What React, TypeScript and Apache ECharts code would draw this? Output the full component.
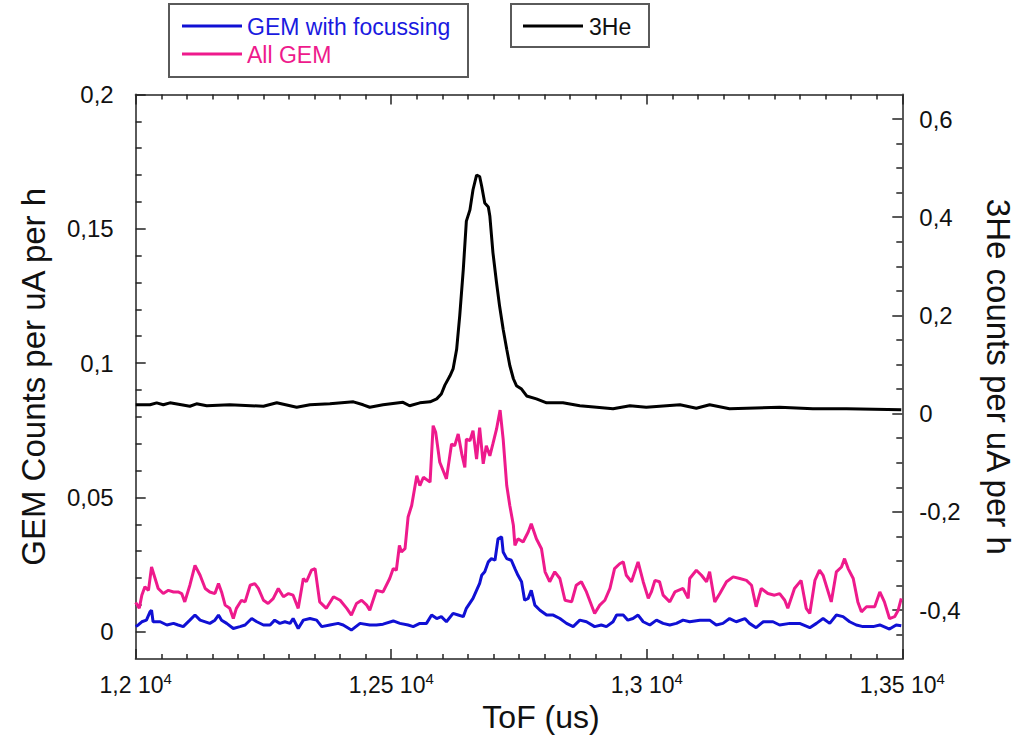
import React, { useEffect, useRef } from "react";
import * as echarts from "echarts";

// ---- Data ----
const heTof = [12000, 12028, 12041, 12054, 12067, 12106, 12119, 12139, 12184, 12250, 12276, 12302, 12315, 12341, 12380, 12426, 12445, 12458, 12484, 12523, 12536, 12556, 12576, 12589, 12598, 12605, 12615, 12621, 12628, 12634, 12641, 12647, 12654, 12660, 12667, 12673, 12677, 12683, 12690, 12693, 12699, 12706, 12712, 12719, 12726, 12732, 12739, 12745, 12755, 12765, 12784, 12804, 12836, 12869, 12902, 12934, 12967, 12999, 13065, 13097, 13123, 13162, 13260, 13325, 13391, 13498];
const heCounts = [0.018, 0.018, 0.022, 0.018, 0.022, 0.015, 0.020, 0.016, 0.018, 0.015, 0.022, 0.016, 0.013, 0.018, 0.020, 0.024, 0.018, 0.013, 0.018, 0.023, 0.016, 0.022, 0.024, 0.030, 0.040, 0.058, 0.077, 0.091, 0.131, 0.199, 0.294, 0.392, 0.415, 0.456, 0.486, 0.483, 0.463, 0.429, 0.421, 0.402, 0.328, 0.267, 0.219, 0.172, 0.131, 0.098, 0.071, 0.057, 0.050, 0.036, 0.030, 0.022, 0.022, 0.016, 0.013, 0.010, 0.016, 0.013, 0.018, 0.011, 0.018, 0.010, 0.013, 0.010, 0.010, 0.008];

const allTof = [12000, 12007, 12012, 12018, 12025, 12031, 12038, 12044, 12054, 12064, 12074, 12083, 12090, 12096, 12106, 12116, 12126, 12136, 12145, 12155, 12162, 12168, 12175, 12184, 12191, 12197, 12207, 12214, 12224, 12233, 12240, 12250, 12259, 12269, 12279, 12289, 12299, 12308, 12318, 12328, 12334, 12344, 12351, 12360, 12373, 12387, 12400, 12413, 12422, 12432, 12442, 12452, 12458, 12471, 12484, 12497, 12504, 12510, 12516, 12520, 12527, 12533, 12540, 12550, 12556, 12563, 12576, 12582, 12587, 12595, 12608, 12618, 12624, 12631, 12638, 12644, 12647, 12654, 12660, 12667, 12673, 12680, 12686, 12693, 12699, 12706, 12713, 12719, 12726, 12732, 12739, 12742, 12748, 12758, 12768, 12774, 12784, 12794, 12801, 12810, 12820, 12830, 12840, 12853, 12862, 12872, 12882, 12898, 12908, 12918, 12928, 12937, 12947, 12954, 12960, 12970, 12983, 12993, 13003, 13009, 13016, 13025, 13032, 13045, 13055, 13071, 13081, 13084, 13097, 13107, 13117, 13123, 13133, 13143, 13156, 13169, 13182, 13195, 13205, 13214, 13224, 13237, 13250, 13260, 13270, 13276, 13289, 13302, 13312, 13319, 13329, 13338, 13345, 13361, 13371, 13381, 13387, 13394, 13404, 13413, 13420, 13430, 13446, 13456, 13465, 13475, 13485, 13492, 13498];
const allCounts = [0.0109, 0.0087, 0.0136, 0.0167, 0.0154, 0.0241, 0.0198, 0.0161, 0.0142, 0.0154, 0.0148, 0.0148, 0.0142, 0.0111, 0.0173, 0.0247, 0.0210, 0.0161, 0.0148, 0.0142, 0.0179, 0.0148, 0.0099, 0.0087, 0.0049, 0.0087, 0.0117, 0.0111, 0.0173, 0.0179, 0.0161, 0.0117, 0.0105, 0.0123, 0.0161, 0.0130, 0.0142, 0.0136, 0.0087, 0.0198, 0.0186, 0.0229, 0.0235, 0.0111, 0.0087, 0.0130, 0.0117, 0.0087, 0.0062, 0.0105, 0.0117, 0.0099, 0.0080, 0.0154, 0.0148, 0.0198, 0.0235, 0.0229, 0.0321, 0.0297, 0.0309, 0.0427, 0.0470, 0.0581, 0.0544, 0.0575, 0.0557, 0.0767, 0.0742, 0.0631, 0.0569, 0.0699, 0.0692, 0.0736, 0.0662, 0.0612, 0.0717, 0.0711, 0.0748, 0.0643, 0.0760, 0.0625, 0.0692, 0.0655, 0.0700, 0.0754, 0.0825, 0.0717, 0.0544, 0.0470, 0.0396, 0.0321, 0.0346, 0.0334, 0.0371, 0.0402, 0.0346, 0.0309, 0.0223, 0.0186, 0.0223, 0.0198, 0.0117, 0.0111, 0.0173, 0.0186, 0.0148, 0.0068, 0.0099, 0.0117, 0.0161, 0.0235, 0.0253, 0.0260, 0.0210, 0.0186, 0.0260, 0.0186, 0.0124, 0.0148, 0.0191, 0.0186, 0.0136, 0.0111, 0.0148, 0.0161, 0.0124, 0.0198, 0.0229, 0.0210, 0.0186, 0.0223, 0.0111, 0.0142, 0.0186, 0.0204, 0.0198, 0.0191, 0.0173, 0.0093, 0.0161, 0.0142, 0.0136, 0.0142, 0.0117, 0.0087, 0.0161, 0.0191, 0.0087, 0.0068, 0.0191, 0.0229, 0.0210, 0.0111, 0.0223, 0.0241, 0.0272, 0.0235, 0.0198, 0.0111, 0.0074, 0.0093, 0.0093, 0.0148, 0.0111, 0.0049, 0.0056, 0.0080, 0.0124];

const focTof = [12000, 12005, 12012, 12021, 12028, 12031, 12034, 12048, 12061, 12074, 12083, 12093, 12106, 12116, 12126, 12145, 12155, 12162, 12168, 12178, 12191, 12204, 12214, 12227, 12237, 12250, 12263, 12272, 12282, 12292, 12302, 12308, 12318, 12328, 12341, 12354, 12364, 12380, 12396, 12406, 12422, 12439, 12458, 12471, 12484, 12504, 12517, 12533, 12543, 12556, 12569, 12579, 12589, 12598, 12608, 12621, 12631, 12641, 12647, 12660, 12673, 12677, 12683, 12690, 12696, 12703, 12709, 12716, 12719, 12726, 12735, 12742, 12748, 12755, 12761, 12768, 12774, 12781, 12791, 12804, 12817, 12830, 12843, 12856, 12869, 12882, 12898, 12911, 12921, 12934, 12941, 12954, 12963, 12973, 12983, 12993, 13006, 13019, 13032, 13045, 13058, 13071, 13084, 13104, 13123, 13136, 13149, 13162, 13175, 13192, 13201, 13214, 13228, 13247, 13260, 13280, 13299, 13319, 13332, 13345, 13358, 13371, 13384, 13397, 13410, 13423, 13443, 13456, 13475, 13488, 13498];
const focCounts = [0.0019, 0.0025, 0.0037, 0.0043, 0.0074, 0.0080, 0.0037, 0.0037, 0.0025, 0.0031, 0.0025, 0.0019, 0.0043, 0.0062, 0.0043, 0.0031, 0.0043, 0.0062, 0.0043, 0.0031, 0.0012, 0.0019, 0.0025, 0.0049, 0.0037, 0.0025, 0.0025, 0.0043, 0.0031, 0.0037, 0.0031, 0.0049, 0.0012, 0.0043, 0.0049, 0.0043, 0.0019, 0.0025, 0.0031, 0.0025, 0.0006, 0.0031, 0.0025, 0.0025, 0.0028, 0.0040, 0.0031, 0.0025, 0.0019, 0.0031, 0.0031, 0.0062, 0.0049, 0.0056, 0.0037, 0.0068, 0.0062, 0.0056, 0.0087, 0.0124, 0.0180, 0.0210, 0.0223, 0.0260, 0.0272, 0.0266, 0.0346, 0.0353, 0.0297, 0.0272, 0.0266, 0.0235, 0.0210, 0.0186, 0.0117, 0.0124, 0.0154, 0.0099, 0.0080, 0.0062, 0.0062, 0.0049, 0.0031, 0.0019, 0.0043, 0.0037, 0.0019, 0.0025, 0.0019, 0.0037, 0.0062, 0.0062, 0.0043, 0.0049, 0.0062, 0.0037, 0.0025, 0.0043, 0.0031, 0.0025, 0.0031, 0.0043, 0.0037, 0.0043, 0.0043, 0.0025, 0.0031, 0.0049, 0.0037, 0.0049, 0.0031, 0.0015, 0.0037, 0.0037, 0.0025, 0.0031, 0.0031, 0.0015, 0.0031, 0.0049, 0.0031, 0.0062, 0.0056, 0.0037, 0.0025, 0.0019, 0.0019, 0.0025, 0.0010, 0.0025, 0.0022];

const leftMajor = [0, 0.05, 0.1, 0.15, 0.2];
const leftMinor = [0.01, 0.02, 0.03, 0.04, 0.06, 0.07, 0.08, 0.09, 0.11, 0.12, 0.13, 0.14, 0.16, 0.17, 0.18, 0.19];
const rightMajor = [-0.4, -0.2, 0, 0.2, 0.4, 0.6];
const rightMinor = [-0.45, -0.35, -0.3, -0.25, -0.15, -0.1, -0.05, 0.05, 0.1, 0.15, 0.25, 0.3, 0.35, 0.45, 0.5, 0.55];

const BLUE = "#1010d4";
const PINK = "#ee1a8c";
const FONT = '"Liberation Sans", Arial, sans-serif';

const zip = (xs: number[], ys: number[]) => xs.map((x, i) => [x, ys[i]]);
const comma = (v: number) => String(+v.toFixed(4)).replace(".", ",");

export default function App() {
  const ref = useRef<HTMLDivElement>(null);
  useEffect(() => {
    if (!ref.current) return;
    const chart = echarts.init(ref.current, null, { renderer: "svg" });
    const axisLine = { show: true, onZero: false, lineStyle: { color: "#5a5a5a", width: 2 } };
    const tickStyle = { color: "#222", width: 1.5 };
    const xCommon = {
      type: "value" as const,
      min: 12000,
      max: 13500,
      interval: 500,
      axisLine,
      axisTick: { show: true, inside: true, length: 10, lineStyle: tickStyle },
      minorTick: { show: true, splitNumber: 10, length: 5, lineStyle: tickStyle },
      splitLine: { show: false },
    };
    chart.setOption({
      animation: false,
      grid: { left: 135.7, right: 123.7, top: 94.5, bottom: 77.5 },
      xAxis: [
        {
          ...xCommon,
          position: "bottom",
          name: "ToF (us)",
          nameLocation: "middle",
          nameGap: 40,
          nameTextStyle: { fontSize: 32, color: "#111", fontFamily: FONT, padding: [0, 0, 0, 44] },
          axisLabel: {
            margin: 12,
            formatter: (v: number) => `{a|${comma(v / 10000)} 10}{b|4}`,
            rich: {
              a: { fontSize: 23, fontFamily: FONT, color: "#111", lineHeight: 27 },
              b: { fontSize: 15, fontFamily: FONT, color: "#111", verticalAlign: "top", lineHeight: 15 },
            },
          },
        },
        {
          ...xCommon,
          position: "top",
          axisLabel: { show: false },
        },
      ],
      yAxis: [
        {
          type: "value",
          position: "left",
          min: -0.0102,
          max: 0.2,
          axisLine,
          splitLine: { show: false },
          axisTick: { show: true, inside: true, length: 10, lineStyle: tickStyle, customValues: leftMajor },
          axisLabel: {
            customValues: leftMajor,
            margin: 22,
            fontSize: 24,
            fontFamily: FONT,
            color: "#111",
            formatter: (v: number) => comma(v),
          },
          name: "GEM Counts per uA per h",
          nameLocation: "middle",
          nameGap: 86,
          nameRotate: 90,
          nameTextStyle: { fontSize: 33, color: "#111", fontFamily: FONT },
        },
        {
          type: "value",
          position: "left",
          min: -0.0102,
          max: 0.2,
          axisLine: { show: false, onZero: false },
          splitLine: { show: false },
          axisTick: { show: true, inside: true, length: 6, lineStyle: tickStyle, customValues: leftMinor },
          axisLabel: { show: false },
        },
        {
          type: "value",
          position: "right",
          min: -0.5,
          max: 0.65,
          axisLine,
          splitLine: { show: false },
          axisTick: { show: true, inside: true, length: 10, lineStyle: tickStyle, customValues: rightMajor },
          axisLabel: {
            customValues: rightMajor,
            margin: 17,
            fontSize: 24,
            fontFamily: FONT,
            color: "#111",
            formatter: (v: number) => comma(v),
          },
          name: "3He counts per uA per h",
          nameLocation: "middle",
          nameGap: 80,
          nameRotate: -90,
          nameTextStyle: { fontSize: 33, color: "#111", fontFamily: FONT },
        },
        {
          type: "value",
          position: "right",
          min: -0.5,
          max: 0.65,
          axisLine: { show: false, onZero: false },
          splitLine: { show: false },
          axisTick: { show: true, inside: true, length: 6, lineStyle: tickStyle, customValues: rightMinor },
          axisLabel: { show: false },
        },
      ],
      series: [
        {
          name: "3He",
          type: "line",
          xAxisIndex: 0,
          yAxisIndex: 2,
          data: zip(heTof, heCounts),
          showSymbol: false,
          lineStyle: { color: "#000", width: 3 },
          itemStyle: { color: "#000" },
        },
        {
          name: "All GEM",
          type: "line",
          xAxisIndex: 0,
          yAxisIndex: 0,
          data: zip(allTof, allCounts),
          showSymbol: false,
          lineStyle: { color: PINK, width: 3 },
          itemStyle: { color: PINK },
        },
        {
          name: "GEM with focussing",
          type: "line",
          xAxisIndex: 0,
          yAxisIndex: 0,
          data: zip(focTof, focCounts),
          showSymbol: false,
          lineStyle: { color: BLUE, width: 3 },
          itemStyle: { color: BLUE },
        },
      ],
      graphic: [
        { type: "rect", shape: { x: 169, y: 4, width: 299, height: 73 }, style: { fill: "#fff", stroke: "#5a5a5a", lineWidth: 2 } },
        { type: "line", shape: { x1: 182, y1: 26, x2: 242, y2: 26 }, style: { stroke: BLUE, lineWidth: 3 } },
        { type: "text", x: 247, y: 27, style: { text: "GEM with focussing", fill: "#1a1ae0", fontSize: 23, fontFamily: FONT, verticalAlign: "middle" } },
        { type: "line", shape: { x1: 182, y1: 54, x2: 242, y2: 54 }, style: { stroke: PINK, lineWidth: 3 } },
        { type: "text", x: 247, y: 55, style: { text: "All GEM", fill: PINK, fontSize: 23, fontFamily: FONT, verticalAlign: "middle" } },
        { type: "rect", shape: { x: 511, y: 4, width: 138, height: 43 }, style: { fill: "#fff", stroke: "#5a5a5a", lineWidth: 2 } },
        { type: "line", shape: { x1: 523, y1: 26, x2: 583, y2: 26 }, style: { stroke: "#000", lineWidth: 3 } },
        { type: "text", x: 589, y: 27, style: { text: "3He", fill: "#111", fontSize: 23, fontFamily: FONT, verticalAlign: "middle" } },
      ],
    });
    return () => chart.dispose();
  }, []);
  return (
    <div
      ref={ref}
      style={{ position: "fixed", left: 0, top: 0, width: 1026, height: 738, background: "#fff" }}
    />
  );
}
